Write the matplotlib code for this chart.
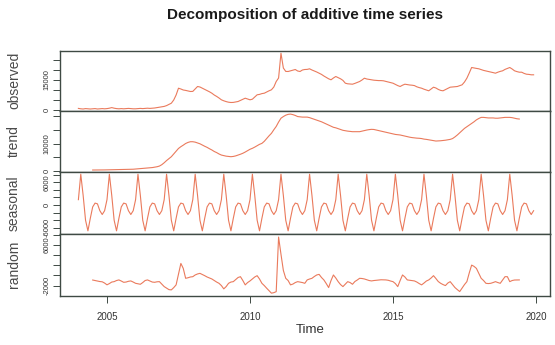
import numpy as np
import matplotlib
matplotlib.use("Agg")
import matplotlib.pyplot as plt

# monthly series, Jan 2004 - Dec 2019
observed = [
    800, 600, 500, 700, 600, 500, 600, 700, 500, 600, 700, 600,          # 2004
    700, 900, 1200, 900, 700, 600, 700, 600, 700, 800, 700, 600,         # 2005
    600, 700, 800, 700, 800, 900, 800, 900, 1000, 1200, 1400, 1600,      # 2006
    1800, 2200, 2800, 3400, 5000, 7500, 10900, 10500, 10000, 9800, 9500, 9250,   # 2007
    9300, 10500, 11750, 11500, 10900, 10300, 9700, 9100, 8400, 7500, 6800, 6000,  # 2008
    5100, 4600, 4200, 3900, 3750, 3800, 4000, 4250, 4800, 5400, 5900, 5500,       # 2009
    5100, 5400, 6500, 7600, 7800, 8200, 8400, 9000, 9600, 10100, 11500, 14250,    # 2010
    16000, 28400, 21000, 19300, 19250, 19600, 20000, 20250, 19500, 19250, 20000, 20250,  # 2011
    20300, 20600, 20000, 19500, 19000, 18400, 17800, 17000, 16300, 15600, 15100, 16000,  # 2012
    16750, 16200, 15600, 14800, 13400, 13100, 13000, 12900, 13300, 13800, 14250, 15000,  # 2013
    15900, 15500, 15300, 15100, 14900, 14800, 14700, 14700, 14600, 14300, 14000, 13700,  # 2014
    13400, 12800, 12200, 11750, 12400, 12900, 12700, 12500, 12400, 12200, 11600, 11200,  # 2015
    10900, 10400, 10000, 9600, 10500, 11400, 11000, 10300, 9800, 9600, 10200, 10800,     # 2016
    11400, 11500, 11600, 11750, 12200, 12600, 14000, 15900, 18500, 21250, 21000, 20800,  # 2017
    20600, 20200, 19800, 19500, 19250, 19000, 18700, 18400, 18900, 19300, 19600, 20300,  # 2018
    20800, 21250, 20500, 19600, 19200, 18900, 18900, 18300, 17900, 17800, 17600, 17600,  # 2019
]

# trend and random: Jul 2004 - Jun 2019
trend = [
    360, 360, 370, 380, 390, 400,                                                  # 2004
    420, 440, 460, 480, 500, 520, 540, 560, 580, 600, 620, 650,                    # 2005
    720, 760, 820, 900, 980, 1050, 1150, 1250, 1400, 1550, 1800, 2300,             # 2006
    3000, 3800, 4500, 5200, 6200, 7200, 8200, 8850, 9400, 10000, 10400, 10650,    # 2007
    10650, 10500, 10200, 9900, 9450, 9000, 8600, 8100, 7650, 7100, 6700, 6200,    # 2008
    5800, 5600, 5400, 5300, 5200, 5300, 5500, 5800, 6100, 6450, 6900, 7400,       # 2009
    7900, 8250, 8700, 9200, 9700, 10050, 10800, 11800, 12800, 13700, 15000, 16200,  # 2010
    17800, 19200, 19800, 20300, 20600, 20700, 20500, 20200, 19800, 19700, 19600, 19600,  # 2011
    19600, 19400, 19100, 18800, 18500, 18200, 17900, 17500, 17100, 16700, 16300, 15900,  # 2012
    15700, 15400, 15100, 14800, 14650, 14500, 14400, 14300, 14300, 14300, 14300, 14500,  # 2013
    14700, 14900, 15050, 15150, 15100, 14900, 14700, 14500, 14300, 14100, 13900, 13700,  # 2014
    13500, 13300, 13200, 13100, 12900, 12700, 12500, 12300, 12150, 12050, 11950, 11900,  # 2015
    11800, 11600, 11500, 11350, 11200, 11050, 10900, 10950, 11000, 11100, 11200, 11350,  # 2016
    11500, 11800, 12400, 13100, 13900, 14700, 15500, 16100, 16700, 17300, 17900, 18600,  # 2017
    19100, 19500, 19500, 19400, 19300, 19300, 19300, 19200, 19200, 19300, 19400, 19500,  # 2018
    19500, 19500, 19400, 19200, 19000, 18900,                                            # 2019
]

# seasonal figure, Jan..Dec (repeats every year)
seasonal_months = [1400, 8100, 2500, -4000, -6800, -3500, -500, 500, 300, -1500, -2500, -1500]

random_part = [
    -900, -1000, -1100, -1200, -1250, -1500,                                         # 2004
    -1850, -1600, -1300, -1220, -1000, -880, -1100, -1350, -1300, -1150, -1080, -1300,  # 2005
    -1550, -1650, -1740, -1400, -1000, -880, -1100, -1300, -1350, -1250, -1220, -1700,  # 2006
    -2200, -2500, -2800, -2850, -2400, -1860, 300, 2380, 1400, -560, -450, -300,        # 2007
    -240, 100, 300, 420, 200, -40, -300, -500, -690, -1000, -1300, -1550,               # 2008
    -2000, -2650, -2200, -1550, -1300, -1220, -800, -400, -240, -1000, -1860, -1400,    # 2009
    -1080, -700, -300, -40, -700, -1550, -2000, -2520, -3000, -3500, -3400, -3200,      # 2010
    7600, 4200, 1000, -560, -1000, -1860, -1700, -1400, -1220, -1300, -1400, -1550,     # 2011
    -880, -700, -560, -200, 100, 220, -400, -880, -1600, -2390, -1000, 100,             # 2012
    -500, -1220, -1800, -2200, -1700, -1220, -1400, -1740, -1200, -900, -560, -600,     # 2013
    -690, -850, -1000, -1080, -1000, -950, -880, -850, -870, -880, -950, -1100,         # 2014
    -1220, -1600, -2200, -1000, 100, -300, -880, -950, -1000, -1080, -1300, -1600,      # 2015
    -1860, -1500, -1100, -880, -500, -40, -600, -1200, -1550, -1800, -2000, -1500,      # 2016
    -1220, -1800, -2390, -2800, -3180, -2500, -1800, -1220, 500, 2050, 1800, 1400,      # 2017
    400, -560, -1000, -1550, -1600, -1550, -1400, -1220, -1400, -1550, -900, -240,      # 2018
    -240, -1220, -1000, -900, -880, -880,                                               # 2019
]

t_all = 2004 + np.arange(len(observed)) / 12
t_mid = 2004.5 + np.arange(len(trend)) / 12
seasonal = np.tile(seasonal_months, len(observed) // 12)

W, H = 555, 345
fig = plt.figure(figsize=(W / 100, H / 100), dpi=100)
plt.rcParams['font.family'] = ['Liberation Sans', 'DejaVu Sans']

line_col = '#ea7a5c'
frame_col = '#3f4a44'
left, right = 60, 550
panels = [
    ('observed', t_all, observed, (50.7, 110.7), (-350, 29650), np.arange(0, 30000, 5000), [0, 15000]),
    ('trend', t_mid, trend, (110.7, 172), (-360, 21930), np.arange(0, 25000, 5000), [0, 10000]),
    ('seasonal', t_all, seasonal, (172, 234), (-7630, 8680), np.arange(-6000, 8001, 2000), [-6000, 0, 6000]),
    ('random', t_mid, random_part, (234, 295.5), (-3960, 8200), np.arange(-2000, 8001, 2000), [-2000, 6000]),
]

for i, (name, tx, vals, (top, bot), ylim, ticks, labelled) in enumerate(panels):
    ax = fig.add_axes([left / W, 1 - bot / H, (right - left) / W, (bot - top) / H])
    ax.plot(tx, vals, color=line_col, lw=0.8)
    ax.set_xlim(2003.357, 2020.49)
    ax.set_ylim(*ylim)
    ax.set_yticks(ticks)
    ax.set_yticklabels([str(v) if v in labelled else '' for v in ticks])
    ax.tick_params(axis='y', length=5, width=0.7, color=frame_col, labelsize=5.5,
                   labelcolor='#333333', labelrotation=90, pad=2)
    for lab in ax.get_yticklabels():
        lab.set_va('center')
    for s in ax.spines.values():
        s.set_color(frame_col)
        s.set_linewidth(1.0)
    if i < 3:
        ax.set_xticks([])
    else:
        ax.set_xticks([2005, 2010, 2015, 2020])
        ax.tick_params(axis='x', length=5, width=0.7, color=frame_col, labelsize=7,
                       labelcolor='#333333', pad=7)
    fig.text(14 / W, 1 - (top + bot) / 2 / H, name, rotation=90, ha='center', va='center',
             fontsize=10, color='#4a4a4a')

fig.text(305 / W, 1 - 15 / H, 'Decomposition of additive time series', ha='center', va='center',
         fontsize=11, fontweight='bold', color='#1a1a1a')
fig.text(310 / W, 1 - 330 / H, 'Time', ha='center', va='center', fontsize=9.5, color='#333333')

fig.savefig('out.png', dpi=100)
